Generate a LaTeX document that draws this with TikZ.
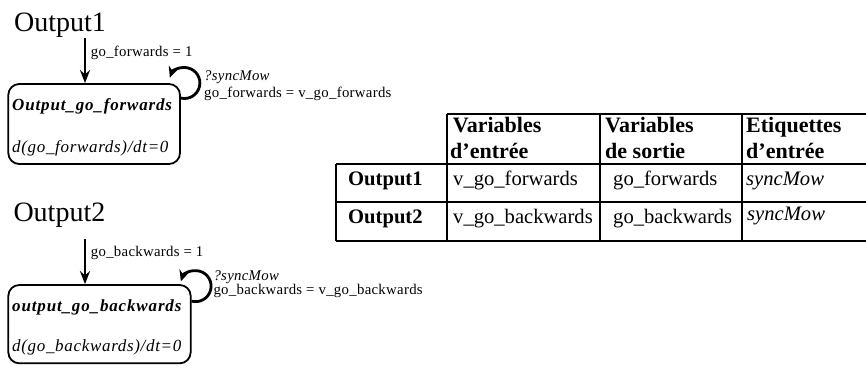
\documentclass[tikz,border=0pt]{standalone}
\usepackage{fontspec}
\setmainfont{Liberation Serif}
\newfontfamily\lblfont{Liberation Serif}[LetterSpace=2]
\newfontfamily\boxfont{Liberation Serif}[LetterSpace=5]
\newfontfamily\eqfont{Liberation Serif}[LetterSpace=4]
\usetikzlibrary{arrows.meta}
\begin{document}
\begin{tikzpicture}[x=1pt,y=1pt,
  state/.style={draw, line width=1.8pt, rounded corners=11pt, inner sep=0pt},
  arr/.style={line width=2.8pt, -{Stealth[length=13pt,width=10pt]}},
  loop arr/.style={line width=2.8pt, -{Stealth[length=11pt,width=10pt]}},
  ttl/.style={anchor=base west, inner sep=0pt, font=\fontsize{28}{30}\selectfont},
  lbl/.style={anchor=base west, inner sep=0pt, font=\fontsize{14.8}{16}\lblfont},
  boxtitle/.style={anchor=base west, inner sep=0pt, font=\fontsize{17}{18}\boxfont\bfseries\itshape},
  boxeq/.style={anchor=base west, inner sep=0pt, font=\fontsize{17}{18}\eqfont\itshape},
  hd/.style={anchor=base west, inner sep=0pt, font=\fontsize{22}{24}\selectfont\bfseries},
  cell/.style={anchor=base west, inner sep=0pt, font=\fontsize{20.6}{23}\selectfont},
  grid/.style={line width=1.8pt}
]
\useasboundingbox (0,0) rectangle (866,-370);

% ---------- Output1 ----------
\node[ttl] (t1) at (14,-31) {Output1};
\node[state, minimum width=171.7pt, minimum height=80pt] (b1) at (94.15,-124) {};
\coordinate (s1) at (85,-38);
\draw[arr] (s1) -- (s1 |- b1.north);
\node[lbl] (l1) at (90.7,-56.7) {go\_forwards = 1};
\draw[loop arr] ([yshift=-15pt]b1.north east) arc[start angle=-103, end angle=160, radius=15.5pt];
\node[lbl, font=\fontsize{14.8}{16}\lblfont\itshape] (g1) at (204,-80) {?syncMow};
\node[lbl] (a1) at (204,-97.7) {go\_forwards = v\_go\_forwards};
\node[boxtitle] (n1) at (12,-110) {Output\_go\_forwards};
\node[boxeq] (e1) at (12,-152) {d(go\_forwards)/dt=0};

% ---------- Output2 ----------
\node[ttl] (t2) at (13.3,-221.7) {Output2};
\node[state, minimum width=182.4pt, minimum height=78.3pt] (b2) at (99.5,-324.15) {};
\coordinate (s2) at (85,-239.3);
\draw[arr] (s2) -- (s2 |- b2.north);
\node[lbl] (l2) at (90.7,-256.7) {go\_backwards = 1};
\draw[loop arr] ([yshift=-17pt]b2.north east) arc[start angle=-105, end angle=162, radius=15.5pt];
\node[lbl, font=\fontsize{14.8}{16}\lblfont\itshape] (g2) at (213.3,-280.7) {?syncMow};
\node[lbl] (a2) at (213.3,-294.5) {go\_backwards = v\_go\_backwards};
\node[boxtitle] (n2) at (12,-311.7) {output\_go\_backwards};
\node[boxeq] (e2) at (12,-351.7) {d(go\_backwards)/dt=0};

% ---------- Table ----------
\draw[grid] (446.7,-114.3) -- (866,-114.3);
\draw[grid] (336,-164.3) -- (866,-164.3);
\draw[grid] (336,-202.3) -- (866,-202.3);
\draw[grid] (336,-240.7) -- (866,-240.7);
\draw[grid] (336,-164.3) -- (336,-240.7);
\draw[grid] (446.7,-114.3) -- (446.7,-240.7);
\draw[grid] (600,-114.3) -- (600,-240.7);
\draw[grid] (741.7,-114.3) -- (741.7,-240.7);

\node[hd] (h1a) at (452.7,-132.7) {Variables};
\node[hd] (h1b) at (450,-158) {d’entrée};
\node[hd] (h2a) at (605,-132.7) {Variables};
\node[hd] (h2b) at (605,-158) {de sortie};
\node[hd] (h3a) at (746,-132.7) {Etiquettes};
\node[hd] (h3b) at (746,-158) {d’entrée};

\node[cell, font=\fontsize{20.6}{23}\selectfont\bfseries] (r1) at (348,-185.5) {Output1};
\node[cell] (r1a) at (453,-185.5) {v\_go\_forwards};
\node[cell] (r1b) at (613,-185.5) {go\_forwards};
\node[cell, font=\fontsize{20.6}{23}\selectfont\itshape] (r1c) at (746,-185.5) {syncMow};
\node[cell, font=\fontsize{20.6}{23}\selectfont\bfseries] (r2) at (348,-223.5) {Output2};
\node[cell] (r2a) at (453,-223.5) {v\_go\_backwards};
\node[cell] (r2b) at (613,-223.5) {go\_backwards};
\node[cell, font=\fontsize{20.6}{23}\selectfont\itshape] (r2c) at (747,-220.5) {syncMow};
\end{tikzpicture}
\end{document}
